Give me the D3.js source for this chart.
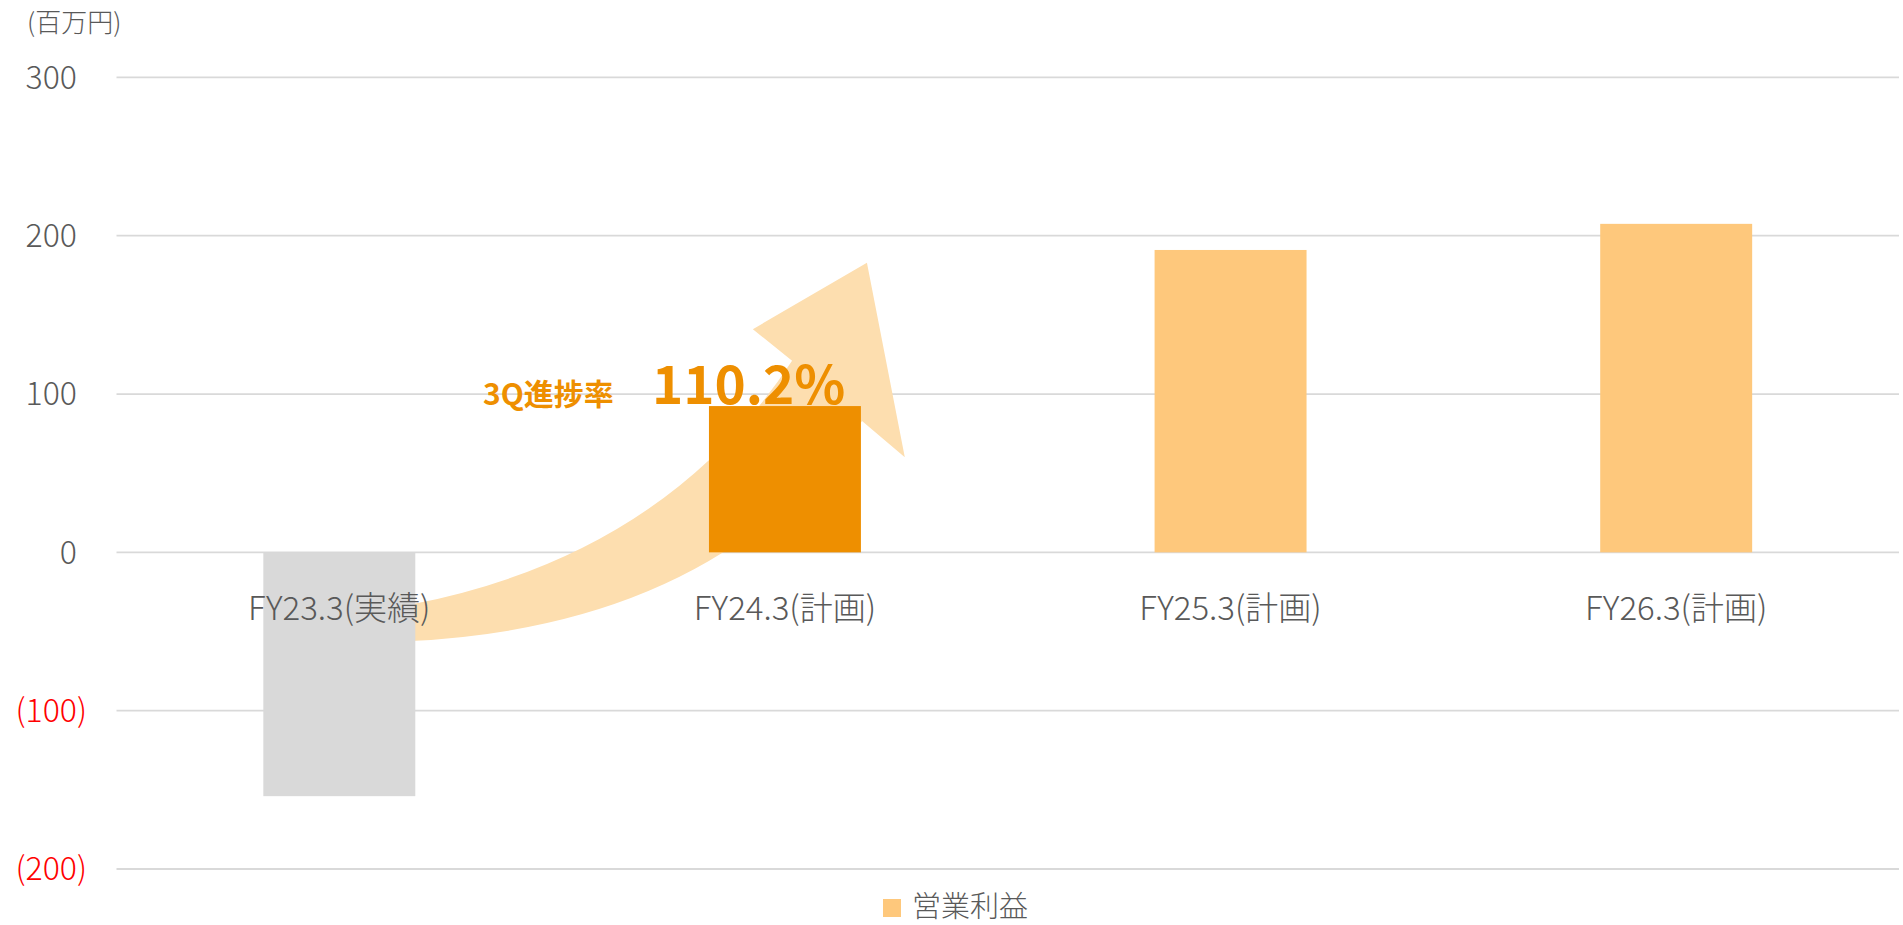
<!DOCTYPE html>
<html>
<head>
    <meta charset="utf-8">
    <title>営業利益</title>
    <script src="https://d3js.org/d3.v7.min.js"></script>
    <style>
        body { margin: 0; background: #fff; }
        text { font-family: "Noto Sans CJK JP", "Noto Sans", sans-serif; }
    </style>
</head>
<body>
    <script>
        // Data
        const categories = ["FY23.3(実績)", "FY24.3(計画)", "FY25.3(計画)", "FY26.3(計画)"];
        const values = [-154, 92.4, 191, 207.5];
        const barColors = ["#D9D9D9", "#EE8F00", "#FEC87C", "#FEC87C"];
        const yTicks = [-200, -100, 0, 100, 200, 300];
        const seriesName = "営業利益";
        const unitLabel = "(百万円)";
        const progressLabel = "3Q進捗率";
        const progressValue = "110.2%";

        // Arrow outline in data units (x: category index space, y: value)
        const arrowUpper = [[0.66, -33], [1.23, -2], [1.516, 121]];
        const arrowHead = [[1.428, 141], [1.684, 183], [1.769, 60], [1.673, 83]];
        const arrowLower = [[1.345, -46.5], [0.66, -56]];

        const width = 1903, height = 925;
        const margin = { left: 116.5, right: 4, top: 77.4, bottom: 56 };

        const svg = d3.select("body")
            .append("svg")
            .attr("width", width)
            .attr("height", height);

        const x = d3.scaleBand()
            .domain(categories)
            .range([margin.left, width - margin.right])
            .paddingInner(0.659)
            .paddingOuter(0.3295);

        const xIdx = d3.scaleLinear()
            .domain([0, categories.length])
            .range([margin.left, width - margin.right]);

        const y = d3.scaleLinear()
            .domain([-200, 300])
            .range([height - margin.bottom, margin.top]);

        // Gridlines
        svg.append("g")
            .selectAll("line")
            .data(yTicks)
            .join("line")
            .attr("x1", margin.left)
            .attr("x2", width - margin.right)
            .attr("y1", d => y(d))
            .attr("y2", d => y(d))
            .attr("stroke", "#D9D9D9")
            .attr("stroke-width", 1.8);

        // Curved arrow (behind bars)
        const P = p => [xIdx(p[0]), y(p[1])];
        const u = arrowUpper.map(P), h = arrowHead.map(P), l = arrowLower.map(P);
        const path = d3.path();
        path.moveTo(u[0][0], u[0][1]);
        path.quadraticCurveTo(u[1][0], u[1][1], u[2][0], u[2][1]);
        h.forEach(p => path.lineTo(p[0], p[1]));
        path.quadraticCurveTo(l[0][0], l[0][1], l[1][0], l[1][1]);
        path.closePath();
        svg.append("path")
            .attr("d", path.toString())
            .attr("fill", "#FDDEAF");

        // Bars
        svg.append("g")
            .selectAll("rect")
            .data(values)
            .join("rect")
            .attr("x", (d, i) => x(categories[i]))
            .attr("width", x.bandwidth())
            .attr("y", d => y(Math.max(0, d)))
            .attr("height", d => Math.abs(y(d) - y(0)))
            .attr("fill", (d, i) => barColors[i]);

        // Category labels
        svg.append("g")
            .selectAll("text")
            .data(categories)
            .join("text")
            .attr("x", d => x(d) + x.bandwidth() / 2)
            .attr("y", y(0) + 56)
            .attr("dy", "0.35em")
            .attr("text-anchor", "middle")
            .attr("font-size", 33)
            .attr("font-weight", 300)
            .attr("fill", "#595959")
            .text(d => d);

        // Y tick labels (Excel style: negatives in red parentheses)
        const tickG = svg.append("g")
            .selectAll("text")
            .data(yTicks)
            .join("text")
            .attr("x", 87)
            .attr("y", d => y(d))
            .attr("dy", "0.35em")
            .attr("text-anchor", "end")
            .attr("font-size", 32)
            .attr("font-weight", 300)
            .attr("fill", d => d < 0 ? "#FF0000" : "#595959");
        tickG.each(function (d) {
            const t = d3.select(this);
            if (d < 0) {
                t.text(`(${Math.abs(d)})`);
            } else {
                t.append("tspan").text(d);
                t.append("tspan").attr("fill-opacity", 0).text(")");
            }
        });

        // Unit label
        svg.append("text")
            .attr("x", 27)
            .attr("y", 23)
            .attr("dy", "0.35em")
            .attr("font-size", 26)
            .attr("font-weight", 300)
            .attr("fill", "#595959")
            .text(unitLabel);

        // Progress annotation
        svg.append("text")
            .attr("x", 483)
            .attr("y", 405)
            .attr("font-size", 30)
            .attr("font-weight", "bold")
            .attr("fill", "#EE8F00")
            .text(progressLabel);

        svg.append("text")
            .attr("x", 652)
            .attr("y", 404)
            .attr("font-size", 53)
            .attr("font-weight", "bold")
            .attr("fill", "#EE8F00")
            .text(progressValue);

        // Legend
        const legend = svg.append("g")
            .attr("transform", "translate(883, 907)");
        legend.append("rect")
            .attr("x", 0)
            .attr("y", -8)
            .attr("width", 18)
            .attr("height", 18)
            .attr("fill", barColors[2]);
        legend.append("text")
            .attr("x", 29)
            .attr("y", 0)
            .attr("dy", "0.35em")
            .attr("font-size", 29)
            .attr("font-weight", 300)
            .attr("fill", "#595959")
            .text(seriesName);
    </script>
</body>
</html>
